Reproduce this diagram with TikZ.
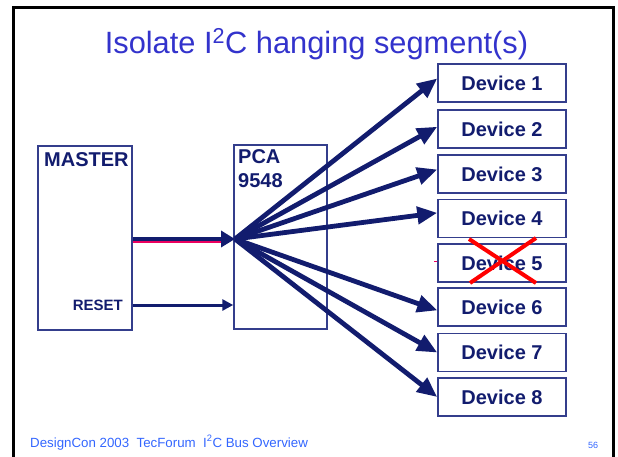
\documentclass[tikz,border=0pt]{standalone}
\usepackage{fontspec}
\setmainfont{Liberation Sans}
\usetikzlibrary{arrows.meta}
\definecolor{navy}{RGB}{18,28,110}
\definecolor{boxblue}{RGB}{52,62,140}
\definecolor{titleblue}{RGB}{51,51,204}
\definecolor{footblue}{RGB}{51,102,255}
\definecolor{buspink}{RGB}{235,0,95}
\tikzset{
  devbox/.style={draw=boxblue,line width=1.5pt,minimum width=128pt,minimum height=38pt,
    inner sep=0pt,text=navy,font=\fontsize{20}{24}\selectfont\bfseries},
  chipbox/.style={draw=boxblue,line width=1.5pt,inner sep=0pt},
  chiplabel/.style={inner sep=0pt,text=navy,font=\fontsize{20}{24}\selectfont\bfseries},
  fan/.style={navy,line width=4.8pt,-{Triangle[length=20pt,width=17pt]}},
}
\begin{document}
\begin{tikzpicture}[x=1pt,y=-1pt]
\useasboundingbox (0,0) rectangle (618,456);
% slide frame
\draw[line width=3pt] (13,470) -- (13,7) -- (613,7) -- (613,470);
\node (title) at (316.5,53) [anchor=base,inner sep=0pt,text=titleblue,font=\fontsize{30.8}{36}\selectfont]
  {Isolate I\textsuperscript{2}C hanging segment(s)};
%
\node[chipbox,minimum width=94pt,minimum height=184pt] (master) at (85,238) {};
\node[chiplabel,anchor=base west] (mastername) at (44,166) {MASTER};
\node[chiplabel,anchor=base east,font=\fontsize{15}{18}\selectfont\bfseries] (reset) at (123,310) {RESET};
%
\node[chipbox,minimum width=93pt,minimum height=184pt] (pca) at (280.5,237) {};
\node[chiplabel,anchor=base west] (pcaname) at (238,163) {PCA};
\node[chiplabel,anchor=base west] (pcanum) at (238,187) {9548};
%
\node[devbox] (dev1) at (502,83) {Device 1};
\node[devbox] (dev2) at (502,129) {Device 2};
\node[devbox] (dev3) at (502,174) {Device 3};
\node[devbox] (dev4) at (502,218.5) {Device 4};
\node[devbox] (dev5) at (502,263) {Device 5};
\node[devbox] (dev6) at (502,307) {Device 6};
\node[devbox] (dev7) at (502,352.5) {Device 7};
\node[devbox] (dev8) at (502,397) {Device 8};
%
\coordinate (hub) at (235,239);
\coordinate (rst) at (master.east |- 0,305);
\draw[buspink,line width=2pt] ([yshift=-3pt]master.east |- hub) -- ([xshift=-12pt,yshift=-3pt]hub);
\draw[navy,line width=4pt,-{Triangle[length=14pt,width=16pt]}] (master.east |- hub) -- (hub);
\draw[navy,line width=3pt,-{Triangle[length=11pt,width=11pt]}] (rst) -- (pca.west |- rst);
%
\draw[fan] (hub) -- (dev1.176);
\draw[fan] (hub) -- (dev2.178);
\draw[fan] (hub) -- (dev3.176);
\draw[fan] (hub) -- (dev4.175);
\draw[fan] (hub) -- (dev6.183);
\draw[fan] (hub) -- (dev7.west);
\draw[fan] (hub) -- (dev8.west);
\draw[buspink,line width=1pt] (434,261.5) -- (437,261.5);
% device 5 is cut off
\draw[red,line width=4pt] (469,239) -- (536,283);
\draw[red,line width=4pt] (536,238) -- (470,283);
%
\node (footer) at (30,447) [anchor=base west,inner sep=0pt,text=footblue,font=\fontsize{13.3}{16}\selectfont]
  {DesignCon 2003\ \ TecForum\ \ I\textsuperscript{2}C Bus Overview};
\node (pagenum) at (588,448) [anchor=base west,inner sep=0pt,text=footblue,font=\fontsize{9}{11}\selectfont] {56};
\end{tikzpicture}
\end{document}
